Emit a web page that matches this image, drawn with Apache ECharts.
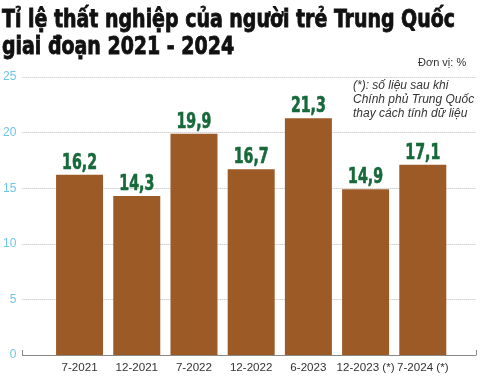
<!DOCTYPE html>
<html>
<head>
<meta charset="utf-8">
<script src="https://cdn.jsdelivr.net/npm/echarts@6/dist/echarts.min.js"></script>
<style>
html, body { margin: 0; padding: 0; background: #fff; }
#main { width: 480px; height: 378px; }
</style>
</head>
<body>
<div id="main"></div>
<script>
// dữ liệu
var categories = ['7-2021', '12-2021', '7-2022', '12-2022', '6-2023', '12-2023 (*)', '7-2024 (*)'];
var values = [16.2, 14.3, 19.9, 16.7, 21.3, 14.9, 17.1];
var yTicks = [0, 5, 10, 15, 20, 25];
var titleLines = ['Tỉ lệ thất nghiệp của người trẻ Trung Quốc', 'giai đoạn 2021 - 2024'];

var myChart = echarts.init(document.getElementById('main'));

var condensed = '"DejaVu Sans Condensed", "DejaVu Sans", sans-serif';
var titleFont = 'bold 25px ' + condensed;
var labelFont = 'bold 21px ' + condensed;

// do chiều rộng tiêu đề để co lại cho vừa
var cv = document.createElement('canvas').getContext('2d');
cv.font = titleFont;
var titleScale = 453 / cv.measureText(titleLines[0]).width;
cv.font = labelFont;
var labelScale = 35 / cv.measureText('16,2').width;

option = {
	animation: false,
	graphic: [{
		type: 'text',
		x: 2,
		y: 8,
		scaleX: titleScale,
		style: {
			text: titleLines[0],
			font: titleFont,
			fill: '#111',
			stroke: '#111',
			lineWidth: 0.8
		}
	}, {
		type: 'text',
		x: 2,
		y: 35,
		scaleX: titleScale,
		style: {
			text: titleLines[1],
			font: titleFont,
			fill: '#111',
			stroke: '#111',
			lineWidth: 0.8
		}
	}, {
		type: 'text',
		x: 418,
		y: 57,
		style: {
			text: 'Đơn vị: %',
			font: '11px "Liberation Sans", Arial, sans-serif',
			fill: '#333'
		}
	}, {
		type: 'text',
		x: 353,
		y: 79,
		style: {
			text: '(*): số liệu sau khi\nChính phủ Trung Quốc\nthay cách tính dữ liệu',
			font: 'italic 12px "Liberation Sans", Arial, sans-serif',
			lineHeight: 14,
			fill: '#333'
		}
	}],
	grid: {
		left: 20,
		right: 4,
		top: 77,
		bottom: 23
	},
	xAxis: {
		type: 'value',
		min: 0,
		max: 7.93,
		interval: 1,
		splitLine: { show: false },
		axisLine: {
			show: true,
			lineStyle: { color: '#888', width: 1 }
		},
		axisTick: {
			show: true,
			inside: true,
			length: 5,
			customValues: [0, 7.93],
			lineStyle: { color: '#888' }
		},
		axisLabel: {
			customValues: [1, 2, 3, 4, 5, 6, 7],
			margin: 7,
			color: '#333',
			fontFamily: '"Liberation Sans", Arial, sans-serif',
			fontSize: 11.6,
			formatter: function (v) {
				return categories[Math.round(v) - 1] || '';
			}
		}
	},
	yAxis: {
		type: 'value',
		min: yTicks[0],
		max: yTicks[yTicks.length - 1],
		interval: 5,
		axisLine: { show: false },
		axisTick: { show: false },
		axisLabel: {
			margin: 6,
			color: '#6ec6e6',
			fontFamily: '"Liberation Sans", Arial, sans-serif',
			fontSize: 12
		},
		splitLine: {
			show: true,
			lineStyle: { color: '#bbb', type: 'dotted', width: 1 }
		}
	},
	series: [{
		type: 'bar',
		barWidth: 47,
		data: values.map(function (v, i) { return [i + 1, v]; }),
		itemStyle: {
			color: '#9c5a27'
		}
	}, {
		// nhãn giá trị, co hẹp theo chiều ngang
		type: 'custom',
		data: values.map(function (v, i) { return [i + 1, v]; }),
		renderItem: function (params, api) {
			var pt = api.coord([api.value(0), api.value(1)]);
			return {
				type: 'text',
				x: pt[0],
				y: pt[1] - 1,
				scaleX: labelScale,
				style: {
					text: String(api.value(1)).replace('.', ','),
					font: labelFont,
					fill: '#17693a',
					stroke: '#17693a',
					lineWidth: 0.6,
					align: 'center',
					verticalAlign: 'bottom'
				}
			};
		}
	}]
};

myChart.setOption(option);
</script>
</body>
</html>
